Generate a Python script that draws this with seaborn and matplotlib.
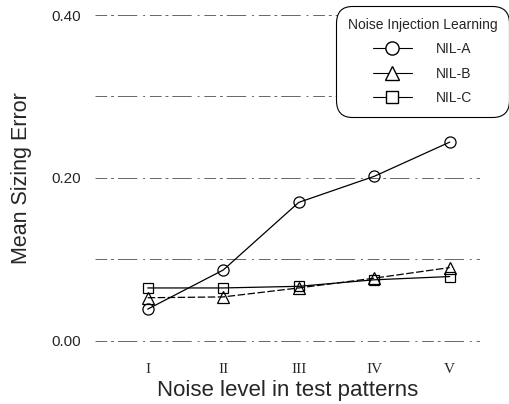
import matplotlib
matplotlib.use("Agg")
import matplotlib.pyplot as plt
from matplotlib.lines import Line2D
import pandas as pd
import seaborn as sns

# valores
niveis = ["I", "II", "III", "IV", "V"]
nil_a = [0.039, 0.087, 0.170, 0.202, 0.244]
nil_b = [0.053, 0.054, 0.065, 0.077, 0.090]
nil_c = [0.065, 0.065, 0.067, 0.075, 0.079]
metodos = ["NIL-A", "NIL-B", "NIL-C"]
yticks = [0.0, 0.2, 0.4]
grades = [0.0, 0.1, 0.2, 0.3, 0.4]

pos = list(range(1, len(niveis) + 1))
df = pd.DataFrame({
    "nivel": pos * 3,
    "erro": nil_a + nil_b + nil_c,
    "metodo": [m for m in metodos for _ in niveis],
})

sns.set_style("white")
plt.rcParams['font.family'] = ['Liberation Sans', 'DejaVu Sans']

fig = plt.figure(figsize=(5.1, 4.04), dpi=100)
ax = fig.add_axes([0.186, 0.136, 0.755, 0.847])

marcadores = {"NIL-A": "o", "NIL-B": "^", "NIL-C": "s"}
tracos = {"NIL-A": "", "NIL-B": (6, 2), "NIL-C": ""}
tamanhos = {"NIL-A": 8, "NIL-B": 8.5, "NIL-C": 7.5}

# gridlines tracejadas (irregulares como no scan)
for g in grades:
    ax.axhline(g, color="0.4", lw=0.7, ls=(0, (12, 4, 3, 4, 20, 6, 2, 5)), zorder=0)

for m in metodos:
    sub = df[df["metodo"] == m]
    sns.lineplot(data=sub, x="nivel", y="erro", ax=ax, color="black", lw=0.9,
                 marker=marcadores[m], markersize=tamanhos[m],
                 markerfacecolor="none", markeredgecolor="black", markeredgewidth=0.9,
                 legend=False)
    if tracos[m]:
        ax.lines[-1].set_dashes(tracos[m])

ax.set_xlim(0.30, 5.40)
ax.set_ylim(-0.01, 0.41)
ax.set_xticks(pos)
ax.set_xticklabels(niveis, family="Liberation Serif", fontsize=11)
ax.set_yticks(yticks)
ax.set_yticklabels(["%.2f" % v for v in yticks], fontsize=11)
ax.tick_params(axis="y", length=0, pad=10)
ax.tick_params(axis="x", length=0, pad=10)
for s in ax.spines.values():
    s.set_visible(False)
ax.set_xlabel("Noise level in test patterns", fontsize=16, labelpad=3)
ax.set_ylabel("Mean Sizing Error", fontsize=15.5, labelpad=14)

handles = [Line2D([], [], color="black", lw=0.8, marker=marcadores[m], markersize=tamanhos[m] + 1.5,
                  markerfacecolor="white", markeredgecolor="black") for m in metodos]
leg = ax.legend(handles, metodos, title="Noise Injection Learning", loc="upper right",
                bbox_to_anchor=(0.998, 0.985), bbox_transform=fig.transFigure,
                fontsize=10, title_fontsize=10, handlelength=2.8, handletextpad=1.7,
                labelspacing=0.75, borderpad=0.85, borderaxespad=0,
                frameon=True, fancybox=True, framealpha=1)
leg.get_frame().set_edgecolor("black")
leg.get_frame().set_linewidth(0.8)
leg.get_frame().set_boxstyle("round", pad=0, rounding_size=1.2)

fig.savefig("out.png", dpi=100)
